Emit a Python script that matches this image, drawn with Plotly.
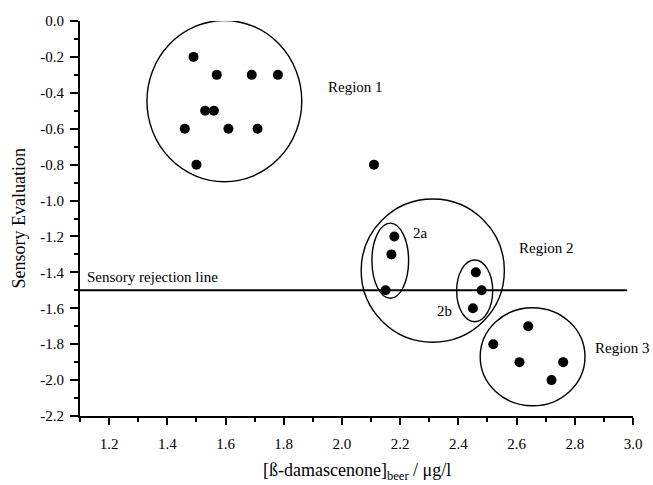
import plotly.graph_objects as go

# ---- data ----
region1_x = [1.49, 1.57, 1.69, 1.78, 1.53, 1.56, 1.46, 1.61, 1.71, 1.50]
region1_y = [-0.2, -0.3, -0.3, -0.3, -0.5, -0.5, -0.6, -0.6, -0.6, -0.8]
outlier_x = [2.11]
outlier_y = [-0.8]
region2a_x = [2.18, 2.17, 2.15]
region2a_y = [-1.2, -1.3, -1.5]
region2b_x = [2.46, 2.48, 2.45]
region2b_y = [-1.4, -1.5, -1.6]
region3_x = [2.64, 2.52, 2.61, 2.76, 2.72]
region3_y = [-1.7, -1.8, -1.9, -1.9, -2.0]

rejection_x = [1.1, 2.98]
rejection_y = [-1.5, -1.5]

# groupings: (center x, center y, radius x, radius y)
group_names = ["Region 1", "Region 2", "2a", "2b", "Region 3"]
group_cx = [1.596, 2.312, 2.166, 2.456, 2.655]
group_cy = [-0.446, -1.39, -1.335, -1.503, -1.87]
group_rx = [0.266, 0.246, 0.063, 0.062, 0.180]
group_ry = [0.449, 0.399, 0.209, 0.172, 0.273]

label_text = ["Region 1", "Region 2", "2a", "2b", "Region 3", "Sensory rejection line"]
label_x = [1.945, 2.60, 2.237, 2.318, 2.863, 1.117]
label_y = [-0.37, -1.264, -1.179, -1.615, -1.819, -1.424]

x_tickvals = [1.2, 1.4, 1.6, 1.8, 2.0, 2.2, 2.4, 2.6, 2.8, 3.0]
x_ticktext = ["1.2", "1.4", "1.6", "1.8", "2.0", "2.2", "2.4", "2.6", "2.8", "3.0"]
y_tickvals = [0.0, -0.2, -0.4, -0.6, -0.8, -1.0, -1.2, -1.4, -1.6, -1.8, -2.0, -2.2]
y_ticktext = ["0.0", "-0.2", "-0.4", "-0.6", "-0.8", "-1.0", "-1.2", "-1.4",
              "-1.6", "-1.8", "-2.0", "-2.2"]

FONT = "Liberation Serif"

fig = go.Figure()

# rejection line
fig.add_trace(go.Scatter(x=rejection_x, y=rejection_y, mode="lines",
                         line=dict(color="black", width=2), showlegend=False,
                         hoverinfo="skip"))

all_x = region1_x + outlier_x + region2a_x + region2b_x + region3_x
all_y = region1_y + outlier_y + region2a_y + region2b_y + region3_y
fig.add_trace(go.Scatter(x=all_x, y=all_y, mode="markers",
                         marker=dict(color="black", size=10, line=dict(width=0)),
                         showlegend=False, cliponaxis=False))

for cx, cy, rx, ry in zip(group_cx, group_cy, group_rx, group_ry):
    fig.add_shape(type="circle", xref="x", yref="y",
                  x0=cx - rx, x1=cx + rx, y0=cy - ry, y1=cy + ry,
                  line=dict(color="black", width=1.4))

for t, x, y in zip(label_text, label_x, label_y):
    fig.add_annotation(x=x, y=y, text=t, showarrow=False, xanchor="left",
                       yanchor="middle", font=dict(family=FONT, size=15, color="black"))

# axis titles
fig.add_annotation(xref="paper", yref="paper", x=0.5, y=0, yshift=-55,
                   text="[ß-damascenone]<sub>beer</sub> / μg/l", showarrow=False,
                   xanchor="center", yanchor="middle",
                   font=dict(family=FONT, size=18, color="black"))
fig.add_annotation(xref="paper", yref="paper", x=0, y=0.5, xshift=-62,
                   text="Sensory Evaluation", showarrow=False, textangle=-90,
                   xanchor="center", yanchor="middle",
                   font=dict(family=FONT, size=18, color="black"))

fig.update_xaxes(range=[1.1, 3.0], showline=True, linecolor="black", linewidth=2,
                 showgrid=False, zeroline=False, ticks="outside", ticklen=7,
                 tickwidth=1.5, tickcolor="black", tickvals=x_tickvals,
                 ticktext=x_ticktext, ticklabelstandoff=6,
                 tickfont=dict(family=FONT, size=15, color="black"),
                 minor=dict(ticks="outside", ticklen=4, tickwidth=1.5,
                            tickcolor="black", dtick=0.1, tick0=1.1, showgrid=False))
fig.update_yaxes(range=[-2.2, 0.0], showline=True, linecolor="black", linewidth=2,
                 showgrid=False, zeroline=False, ticks="outside", ticklen=8,
                 tickwidth=1.5, tickcolor="black", tickvals=y_tickvals,
                 ticktext=y_ticktext, ticklabelstandoff=3,
                 tickfont=dict(family=FONT, size=15, color="black"),
                 minor=dict(ticks="outside", ticklen=4, tickwidth=1.5,
                            tickcolor="black", dtick=0.1, tick0=0.0, showgrid=False))

fig.update_layout(width=653, height=485,
                  margin=dict(l=80, r=20, t=21, b=69, autoexpand=False),
                  plot_bgcolor="white", paper_bgcolor="white",
                  font=dict(family=FONT, color="black"),
                  showlegend=False)

fig.write_html("out.html")
